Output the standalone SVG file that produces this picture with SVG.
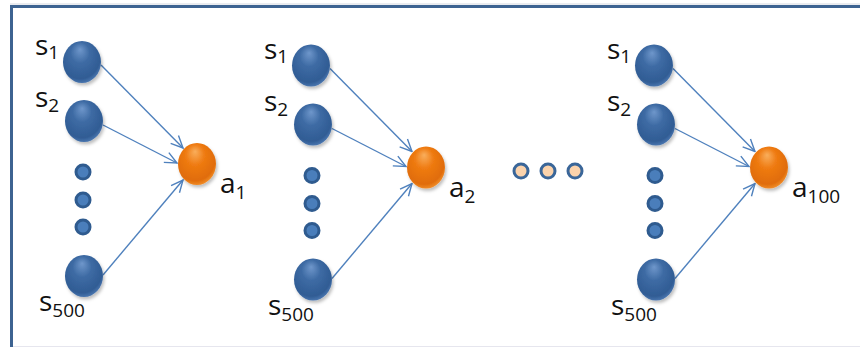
<svg xmlns="http://www.w3.org/2000/svg" width="860" height="347" viewBox="0 0 860 347">
<defs>
<radialGradient id="gBlue" cx="0.45" cy="0.4" r="0.62" fx="0.45" fy="0.2">
<stop offset="0" stop-color="#6F97CB"/>
<stop offset="0.4" stop-color="#3E6BA4"/>
<stop offset="0.85" stop-color="#305C94"/>
<stop offset="1" stop-color="#4D79B2"/>
</radialGradient>
<radialGradient id="gOrange" cx="0.45" cy="0.4" r="0.62" fx="0.45" fy="0.2">
<stop offset="0" stop-color="#F9AE5C"/>
<stop offset="0.4" stop-color="#EF7B12"/>
<stop offset="0.85" stop-color="#E06C08"/>
<stop offset="1" stop-color="#F2902E"/>
</radialGradient>
<filter id="sh" x="-30%" y="-30%" width="160%" height="160%">
<feDropShadow dx="1.5" dy="2.5" stdDeviation="1.5" flood-color="#000" flood-opacity="0.25"/>
</filter>
<marker id="arr" viewBox="0 0 14 14" refX="13" refY="7" markerWidth="14" markerHeight="14" markerUnits="userSpaceOnUse" orient="auto">
<path d="M1,1.5 L13,7 L1,12.5" fill="none" stroke="#4F81BD" stroke-width="1.4"/>
</marker>
</defs>
<style>
.big{fill:url(#gBlue);filter:url(#sh);}
.out{fill:url(#gOrange);filter:url(#sh);}
.dot{fill:#4A7EBB;stroke:#2F5B8F;stroke-width:3;}
.pdot{fill:#FBD3AC;stroke:#3A6699;stroke-width:3;}
.lbl{font-family:"Open Sans","DejaVu Sans",sans-serif;font-size:28px;fill:#111;}
.sub{font-size:19px;}
.edge{stroke:#4F81BD;stroke-width:1.4;fill:none;marker-end:url(#arr);}
.frame{stroke:#3D6391;stroke-width:3;fill:none;}
</style>
<rect width="860" height="347" fill="#fff"/>
<line x1="10" y1="4" x2="860" y2="4" stroke="#D4D8E0" stroke-width="1"/>
<path class="frame" d="M11.5,347 L11.5,6.5 L860,6.5"/>
<line x1="13" y1="346.5" x2="860" y2="346.5" stroke="#E6E6EE" stroke-width="1"/>

<g id="connectors">
<g transform="translate(0,0)">
<line class="edge" x1="101" y1="65" x2="183" y2="148"/>
<line class="edge" x1="103" y1="125" x2="177" y2="163"/>
<line class="edge" x1="103" y1="275" x2="183" y2="180"/>
</g>
<g transform="translate(229,3.5)">
<line class="edge" x1="101" y1="65" x2="183" y2="148"/>
<line class="edge" x1="103" y1="125" x2="177" y2="163"/>
<line class="edge" x1="103" y1="275" x2="183" y2="180"/>
</g>
<g transform="translate(572,3.5)">
<line class="edge" x1="101" y1="65" x2="183" y2="148"/>
<line class="edge" x1="103" y1="125" x2="177" y2="163"/>
<line class="edge" x1="103" y1="275" x2="183" y2="180"/>
</g>
</g>

<g id="panel1">
<g id="p1-s1"><ellipse class="big" cx="82" cy="62" rx="19" ry="21"/><text class="lbl" x="35" y="55">s<tspan class="sub" dy="4">1</tspan></text></g>
<g id="p1-s2"><ellipse class="big" cx="84" cy="121" rx="19" ry="21"/><text class="lbl" x="35" y="107">s<tspan class="sub" dy="5">2</tspan></text></g>
<g id="p1-dots"><circle class="dot" cx="83" cy="172" r="7"/><circle class="dot" cx="83" cy="200" r="7"/><circle class="dot" cx="83" cy="227" r="7"/></g>
<g id="p1-s500"><ellipse class="big" cx="84" cy="276" rx="19" ry="21"/><text class="lbl" x="39" y="311">s<tspan class="sub" dy="6">500</tspan></text></g>
<g id="p1-a1"><ellipse class="out" cx="197" cy="164" rx="19" ry="21"/><text class="lbl" x="220" y="193">a<tspan class="sub" dy="6">1</tspan></text></g>
</g>

<g id="panel2" transform="translate(229,3.5)">
<g id="p2-s1"><ellipse class="big" cx="82" cy="62" rx="19" ry="21"/><text class="lbl" x="35" y="55">s<tspan class="sub" dy="4">1</tspan></text></g>
<g id="p2-s2"><ellipse class="big" cx="84" cy="121" rx="19" ry="21"/><text class="lbl" x="35" y="107">s<tspan class="sub" dy="5">2</tspan></text></g>
<g id="p2-dots"><circle class="dot" cx="83" cy="172" r="7"/><circle class="dot" cx="83" cy="200" r="7"/><circle class="dot" cx="83" cy="227" r="7"/></g>
<g id="p2-s500"><ellipse class="big" cx="84" cy="276" rx="19" ry="21"/><text class="lbl" x="39" y="311">s<tspan class="sub" dy="6">500</tspan></text></g>
<g id="p2-a2"><ellipse class="out" cx="197" cy="164" rx="19" ry="21"/><text class="lbl" x="220" y="193">a<tspan class="sub" dy="6">2</tspan></text></g>
</g>

<g id="ellipsis"><circle class="pdot" cx="521" cy="171" r="7"/><circle class="pdot" cx="548" cy="171" r="7"/><circle class="pdot" cx="575" cy="171" r="7"/></g>

<g id="panel3" transform="translate(572,3.5)">
<g id="p3-s1"><ellipse class="big" cx="82" cy="62" rx="19" ry="21"/><text class="lbl" x="35" y="55">s<tspan class="sub" dy="4">1</tspan></text></g>
<g id="p3-s2"><ellipse class="big" cx="84" cy="121" rx="19" ry="21"/><text class="lbl" x="35" y="107">s<tspan class="sub" dy="5">2</tspan></text></g>
<g id="p3-dots"><circle class="dot" cx="83" cy="172" r="7"/><circle class="dot" cx="83" cy="200" r="7"/><circle class="dot" cx="83" cy="227" r="7"/></g>
<g id="p3-s500"><ellipse class="big" cx="84" cy="276" rx="19" ry="21"/><text class="lbl" x="39" y="311">s<tspan class="sub" dy="6">500</tspan></text></g>
<g id="p3-a100"><ellipse class="out" cx="197" cy="164" rx="19" ry="21"/><text class="lbl" x="220" y="193">a<tspan class="sub" dy="6">100</tspan></text></g>
</g>
</svg>
